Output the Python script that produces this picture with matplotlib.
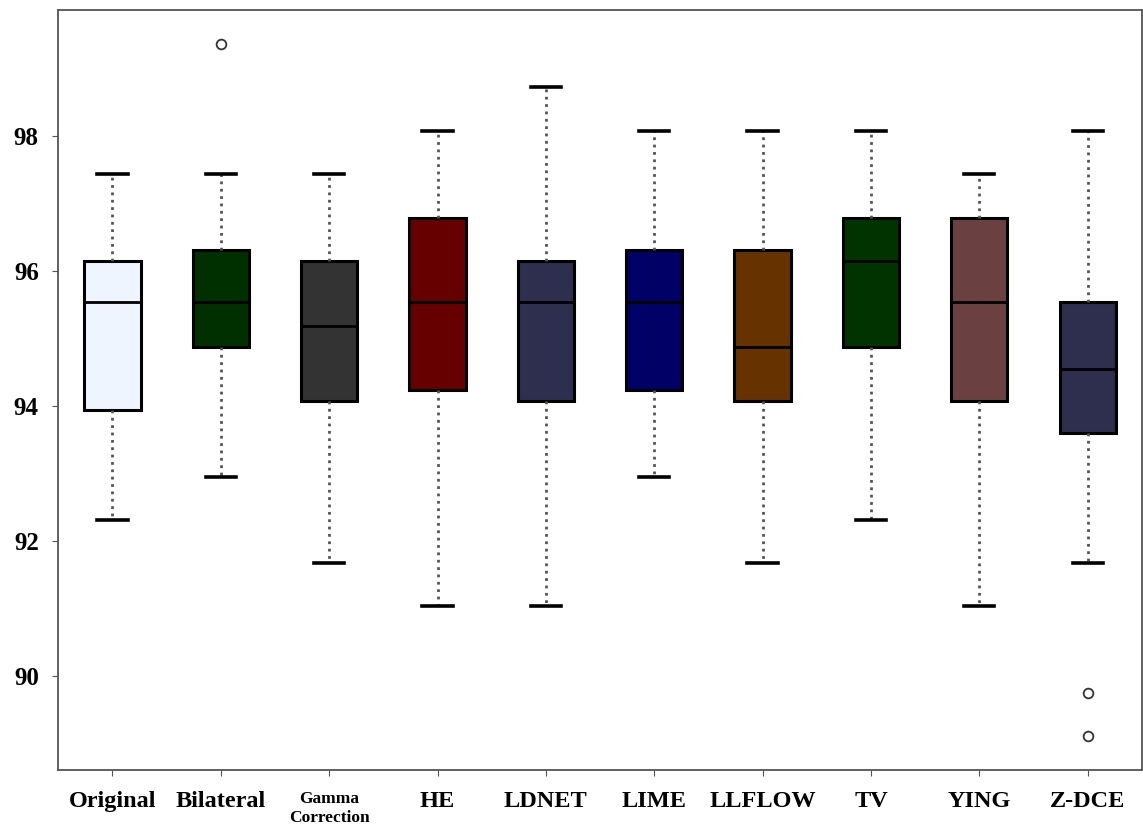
import matplotlib
matplotlib.use("Agg")
import matplotlib.pyplot as plt
import matplotlib.transforms as mtransforms

# accuracy (%) per enhancement method
methods = ["Original", "Bilateral", "Gamma\nCorrection", "HE", "LDNET",
           "LIME", "LLFLOW", "TV", "YING", "Z-DCE"]
whis_lo = [92.31, 92.95, 91.67, 91.03, 91.03, 92.95, 91.67, 92.31, 91.03, 91.67]
q1      = [93.94, 94.87, 94.07, 94.23, 94.07, 94.23, 94.07, 94.87, 94.07, 93.59]
median  = [95.54, 95.54, 95.19, 95.54, 95.54, 95.54, 94.87, 96.15, 95.54, 94.55]
q3      = [96.15, 96.31, 96.15, 96.79, 96.15, 96.31, 96.31, 96.79, 96.79, 95.54]
whis_hi = [97.44, 97.44, 97.44, 98.08, 98.72, 98.08, 98.08, 98.08, 97.44, 98.08]
outliers = [[], [99.36], [], [], [], [], [], [], [], [89.74, 89.10]]
colors = ["#eef5ff", "#003000", "#333333", "#660000", "#2e2e4e",
          "#000066", "#663300", "#003300", "#6b4040", "#2e2e4e"]

stats = []
for i in range(len(methods)):
    stats.append(dict(label=methods[i], whislo=whis_lo[i], q1=q1[i],
                      med=median[i], q3=q3[i], whishi=whis_hi[i],
                      fliers=outliers[i]))

plt.rcParams['font.family'] = ['Liberation Serif', 'DejaVu Serif']
fig = plt.figure(figsize=(11.43, 8.27), dpi=100)
ax = fig.add_axes([0.051, 0.069, 0.948, 0.919])

bp = ax.bxp(stats, widths=0.52, patch_artist=True, capwidths=0.28,
            boxprops=dict(linewidth=2.2, edgecolor="black"),
            medianprops=dict(color="black", linewidth=2),
            whiskerprops=dict(color="#555555", linestyle=":", linewidth=2),
            capprops=dict(color="black", linewidth=2.6),
            flierprops=dict(marker="o", markerfacecolor="white",
                            markeredgecolor="#333333", markersize=7,
                            markeredgewidth=1.3))
for patch, c in zip(bp['boxes'], colors):
    patch.set_facecolor(c)

ax.set_xlim(0.5, 10.5)
ax.set_ylim(88.6, 99.87)
ax.set_yticks([90, 92, 94, 96, 98])
ax.set_yticklabels(["90", "92", "94", "96", "98"], fontsize=18, fontweight="bold")
ax.set_xticklabels(methods, fontsize=17.5, fontweight="bold")
# two-line label: smaller and nudged up so it fits above the figure edge
shift_up = mtransforms.ScaledTranslation(0, 0.06, fig.dpi_scale_trans)
for lab in ax.get_xticklabels():
    if "\n" in lab.get_text():
        lab.set_fontsize(12.5)
        lab.set_linespacing(1.25)
        lab.set_transform(lab.get_transform() + shift_up)
ax.tick_params(length=4, color="#555555")
ax.tick_params(axis="x", pad=11)
ax.tick_params(axis="y", pad=10)
for sp in ax.spines.values():
    sp.set_color("#555555")
    sp.set_linewidth(1.3)

fig.savefig("out.png", dpi=100)
